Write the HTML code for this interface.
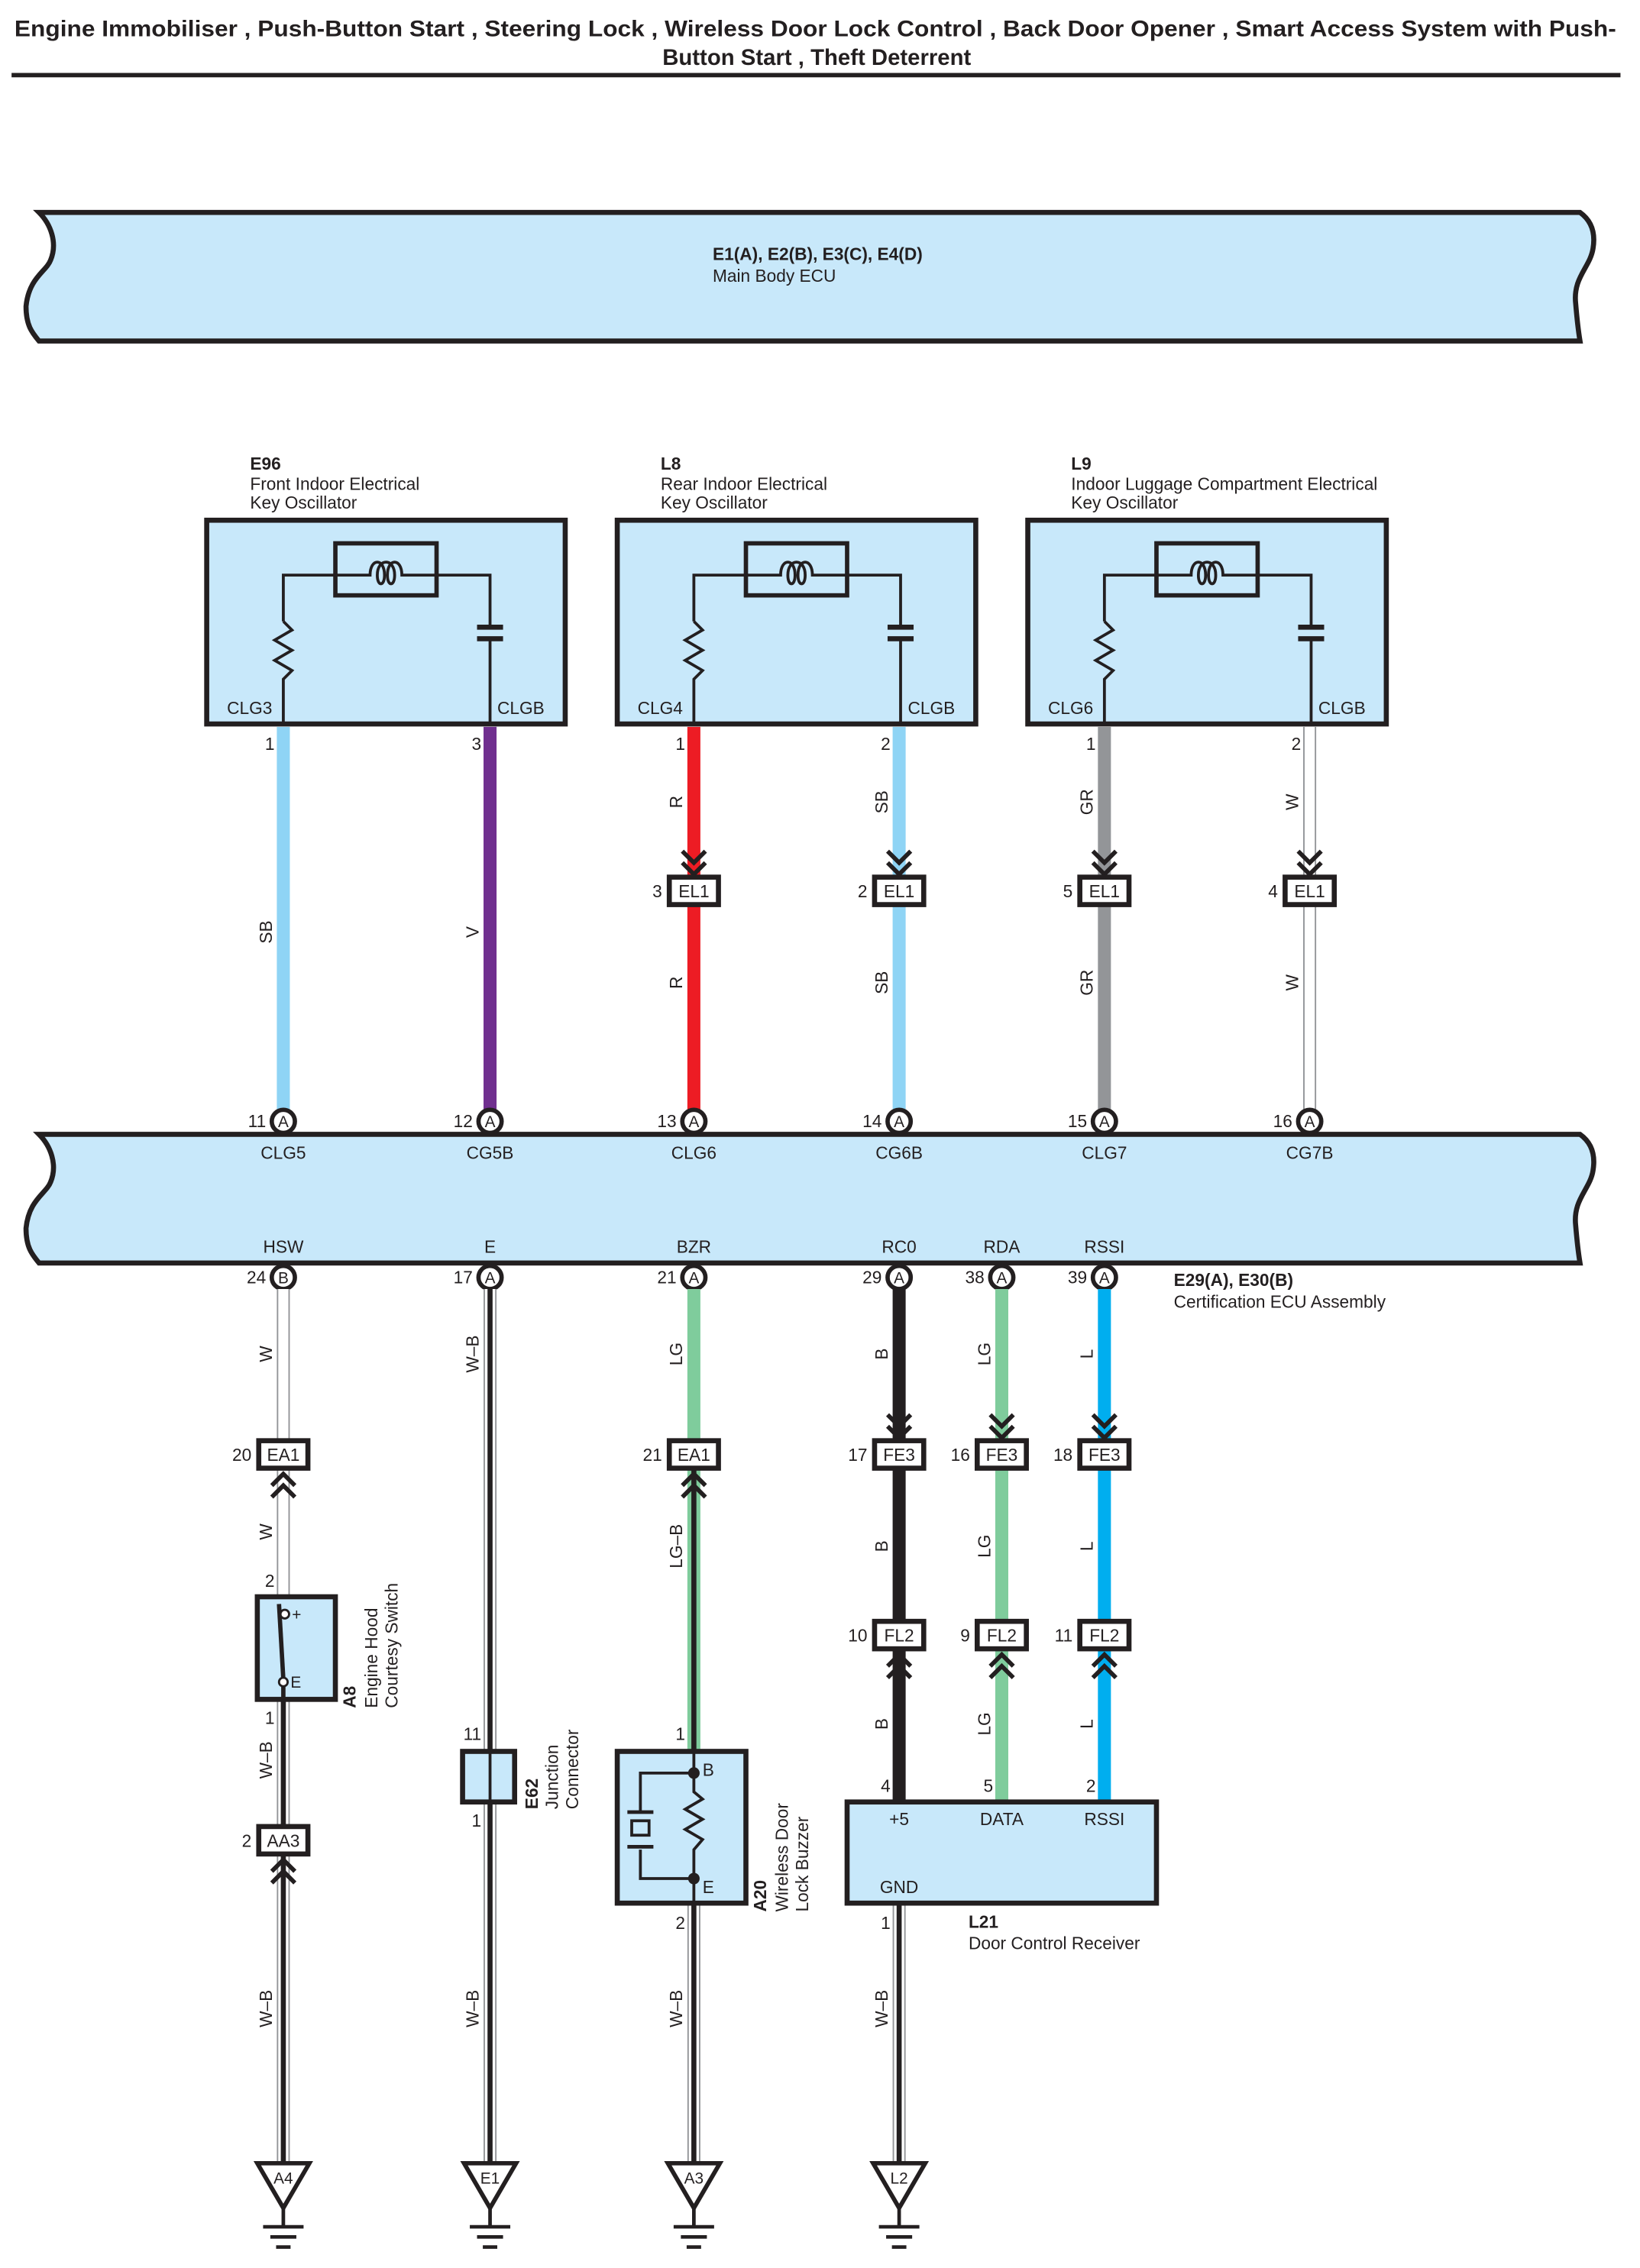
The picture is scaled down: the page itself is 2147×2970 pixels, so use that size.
<!DOCTYPE html>
<html><head><meta charset="utf-8"><style>
html,body{margin:0;padding:0;background:#fff}
svg{display:block}
text{font-family:"Liberation Sans",Arial,sans-serif;fill:#231f20}
.t{font-size:12px}.b{font-weight:bold}.p{font-size:12px}
</style></head><body>
<svg width="2147" height="2970" viewBox="0 0 1134.5 1569.5" preserveAspectRatio="none" xmlns="http://www.w3.org/2000/svg">
<defs>
<g id="chd"><polyline points="-8,-16 0,-8 8,-16" fill="none" stroke="#231f20" stroke-width="3"/><polyline points="-8,-8 0,0 8,-8" fill="none" stroke="#231f20" stroke-width="3"/></g>
<g id="chu"><polyline points="-8,16 0,8 8,16" fill="none" stroke="#231f20" stroke-width="3"/><polyline points="-8,8 0,0 8,8" fill="none" stroke="#231f20" stroke-width="3"/></g>
</defs>
<rect width="1140" height="1570" fill="#fff"/>
<!-- title -->
<text x="10" y="25" class="b" font-size="15.5" textLength="1108" lengthAdjust="spacingAndGlyphs">Engine Immobiliser , Push-Button Start , Steering Lock , Wireless Door Lock Control , Back Door Opener , Smart Access System with Push-</text>
<text x="565" y="45" class="b" font-size="15.5" text-anchor="middle">Button Start , Theft Deterrent</text>
<line x1="8" y1="52" x2="1121" y2="52" stroke="#231f20" stroke-width="3"/>

<!-- Main body ECU -->
<path d="M27,147 H1093 C1100,152 1104,160 1102,172 C1100,185 1088,192 1090,210 C1091,222 1092,230 1093,236 H27 C22,230 18,225 18,212 C20,192 32,188 35,180 C40,168 35,155 27,147 Z" fill="#c8e8fa" stroke="#231f20" stroke-width="3.5"/>
<text x="493" y="180" class="t b">E1(A), E2(B), E3(C), E4(D)</text>
<text x="493" y="195" class="t">Main Body ECU</text>

<!-- Oscillators -->
<g id="osc1">
<rect x="143" y="360" width="248" height="141" fill="#c8e8fa" stroke="#231f20" stroke-width="3.5"/>
<rect x="232" y="376" width="70" height="36" fill="none" stroke="#231f20" stroke-width="3"/>
<path d="M196,430 V398 H256 c0,-12 10,-12 10,0 c0,8 -5,8 -5,0 c0,-12 12,-12 12,0 c0,8 -5,8 -5,0 c0,-12 10,-12 10,0 H339 V434" fill="none" stroke="#231f20" stroke-width="2"/>
<polyline points="196,430 202,436 190,443 202,450 190,457 202,464 196,470 196,501" fill="none" stroke="#231f20" stroke-width="2"/>
<line x1="330" y1="434" x2="348" y2="434" stroke="#231f20" stroke-width="3.5"/>
<line x1="330" y1="442" x2="348" y2="442" stroke="#231f20" stroke-width="3.5"/>
<line x1="339" y1="442" x2="339" y2="501" stroke="#231f20" stroke-width="2"/>
</g>
<use href="#osc1" x="284"/>
<use href="#osc1" x="568"/>
<text x="173" y="325" class="t b">E96</text><text x="173" y="339" class="t">Front Indoor Electrical</text><text x="173" y="352" class="t">Key Oscillator</text>
<text x="457" y="325" class="t b">L8</text><text x="457" y="339" class="t">Rear Indoor Electrical</text><text x="457" y="352" class="t">Key Oscillator</text>
<text x="741" y="325" class="t b">L9</text><text x="741" y="339" class="t">Indoor Luggage Compartment Electrical</text><text x="741" y="352" class="t">Key Oscillator</text>
<text x="157" y="494" class="t">CLG3</text><text x="344" y="494" class="t">CLGB</text>
<text x="441" y="494" class="t">CLG4</text><text x="628" y="494" class="t">CLGB</text>
<text x="725" y="494" class="t">CLG6</text><text x="912" y="494" class="t">CLGB</text>

<!-- top wires -->
<g stroke-width="9">
<line x1="196" y1="503" x2="196" y2="768" stroke="#8fd4f5"/>
<line x1="339" y1="503" x2="339" y2="768" stroke="#702f8f"/>
<line x1="480" y1="503" x2="480" y2="768" stroke="#ed1c24"/>
<line x1="622" y1="503" x2="622" y2="768" stroke="#8fd4f5"/>
<line x1="764" y1="503" x2="764" y2="768" stroke="#939598"/>
<line x1="906" y1="503" x2="906" y2="768" stroke="#939598"/>
</g>
<line x1="906" y1="503" x2="906" y2="768" stroke="#fff" stroke-width="7"/>
<g class="p">
<text x="190" y="519" text-anchor="end" class="p">1</text><text x="333" y="519" text-anchor="end" class="p">3</text>
<text x="474" y="519" text-anchor="end" class="p">1</text><text x="616" y="519" text-anchor="end" class="p">2</text>
<text x="758" y="519" text-anchor="end" class="p">1</text><text x="900" y="519" text-anchor="end" class="p">2</text>
</g>
<g class="t" text-anchor="middle">
<text transform="translate(188,645) rotate(-90)">SB</text>
<text transform="translate(331,645) rotate(-90)">V</text>
<text transform="translate(472,555) rotate(-90)">R</text><text transform="translate(472,680) rotate(-90)">R</text>
<text transform="translate(614,555) rotate(-90)">SB</text><text transform="translate(614,680) rotate(-90)">SB</text>
<text transform="translate(756,555) rotate(-90)">GR</text><text transform="translate(756,680) rotate(-90)">GR</text>
<text transform="translate(898,555) rotate(-90)">W</text><text transform="translate(898,680) rotate(-90)">W</text>
</g>
<g>
<use href="#chd" x="480" y="605"/><use href="#chd" x="622" y="605"/><use href="#chd" x="764" y="605"/><use href="#chd" x="906" y="605"/>
<rect x="463" y="607" width="34" height="19" fill="#fff" stroke="#231f20" stroke-width="3.5"/>
<rect x="605" y="607" width="34" height="19" fill="#fff" stroke="#231f20" stroke-width="3.5"/>
<rect x="747" y="607" width="34" height="19" fill="#fff" stroke="#231f20" stroke-width="3.5"/>
<rect x="889" y="607" width="34" height="19" fill="#fff" stroke="#231f20" stroke-width="3.5"/>
<g class="t" text-anchor="middle"><text x="480" y="621">EL1</text><text x="622" y="621">EL1</text><text x="764" y="621">EL1</text><text x="906" y="621">EL1</text></g>
<g class="t" text-anchor="end"><text x="458" y="621">3</text><text x="600" y="621">2</text><text x="742" y="621">5</text><text x="884" y="621">4</text></g>
</g>

<!-- Certification ECU -->
<path transform="translate(0,638)" d="M27,147 H1093 C1100,152 1104,160 1102,172 C1100,185 1088,192 1090,210 C1091,222 1092,230 1093,236 H27 C22,230 18,225 18,212 C20,192 32,188 35,180 C40,168 35,155 27,147 Z" fill="#c8e8fa" stroke="#231f20" stroke-width="3.5"/>
<g fill="#fff" stroke="#231f20" stroke-width="3">
<circle cx="196" cy="776" r="8"/><circle cx="339" cy="776" r="8"/><circle cx="480" cy="776" r="8"/><circle cx="622" cy="776" r="8"/><circle cx="764" cy="776" r="8"/><circle cx="906" cy="776" r="8"/>
<circle cx="196" cy="884" r="8"/><circle cx="339" cy="884" r="8"/><circle cx="480" cy="884" r="8"/><circle cx="622" cy="884" r="8"/><circle cx="693" cy="884" r="8"/><circle cx="764" cy="884" r="8"/>
</g>
<g font-size="11" text-anchor="middle">
<text x="196" y="780">A</text><text x="339" y="780">A</text><text x="480" y="780">A</text><text x="622" y="780">A</text><text x="764" y="780">A</text><text x="906" y="780">A</text>
<text x="196" y="888">B</text><text x="339" y="888">A</text><text x="480" y="888">A</text><text x="622" y="888">A</text><text x="693" y="888">A</text><text x="764" y="888">A</text>
</g>
<g class="p" text-anchor="end">
<text x="184" y="780">11</text><text x="327" y="780">12</text><text x="468" y="780">13</text><text x="610" y="780">14</text><text x="752" y="780">15</text><text x="894" y="780">16</text>
<text x="184" y="888">24</text><text x="327" y="888">17</text><text x="468" y="888">21</text><text x="610" y="888">29</text><text x="681" y="888">38</text><text x="752" y="888">39</text>
</g>
<g class="t" text-anchor="middle">
<text x="196" y="802">CLG5</text><text x="339" y="802">CG5B</text><text x="480" y="802">CLG6</text><text x="622" y="802">CG6B</text><text x="764" y="802">CLG7</text><text x="906" y="802">CG7B</text>
<text x="196" y="867">HSW</text><text x="339" y="867">E</text><text x="480" y="867">BZR</text><text x="622" y="867">RC0</text><text x="693" y="867">RDA</text><text x="764" y="867">RSSI</text>
</g>
<text x="812" y="890" class="t b">E29(A), E30(B)</text>
<text x="812" y="905" class="t">Certification ECU Assembly</text>

<g>
<line x1="196" y1="892" x2="196" y2="1105" stroke="#939598" stroke-width="9"/>
<line x1="196" y1="892" x2="196" y2="1105" stroke="#fff" stroke-width="7"/>
<line x1="196" y1="1176" x2="196" y2="1497" stroke="#939598" stroke-width="9"/>
<line x1="196" y1="1176" x2="196" y2="1497" stroke="#fff" stroke-width="7"/>
<line x1="196" y1="1176" x2="196" y2="1497" stroke="#231f20" stroke-width="3.5"/>
<line x1="339" y1="892" x2="339" y2="1497" stroke="#939598" stroke-width="9"/>
<line x1="339" y1="892" x2="339" y2="1497" stroke="#fff" stroke-width="7"/>
<line x1="339" y1="892" x2="339" y2="1497" stroke="#231f20" stroke-width="3.5"/>
<line x1="480" y1="892" x2="480" y2="1212" stroke="#7fcc9c" stroke-width="9"/>
<line x1="480" y1="1016" x2="480" y2="1212" stroke="#231f20" stroke-width="3.5"/>
<line x1="480" y1="1317" x2="480" y2="1497" stroke="#939598" stroke-width="9"/>
<line x1="480" y1="1317" x2="480" y2="1497" stroke="#fff" stroke-width="7"/>
<line x1="480" y1="1317" x2="480" y2="1497" stroke="#231f20" stroke-width="3.5"/>
<line x1="622" y1="892" x2="622" y2="1247" stroke="#231f20" stroke-width="9"/>
<line x1="622" y1="1317" x2="622" y2="1497" stroke="#939598" stroke-width="9"/>
<line x1="622" y1="1317" x2="622" y2="1497" stroke="#fff" stroke-width="7"/>
<line x1="622" y1="1317" x2="622" y2="1497" stroke="#231f20" stroke-width="3.5"/>
<line x1="693" y1="892" x2="693" y2="1247" stroke="#7fcc9c" stroke-width="9"/>
<line x1="764" y1="892" x2="764" y2="1247" stroke="#00aeef" stroke-width="9"/>
</g>
<g class="t" text-anchor="middle">
<text transform="translate(188,937) rotate(-90)">W</text><text transform="translate(188,1060) rotate(-90)">W</text>
<text transform="translate(188,1218) rotate(-90)">W–B</text><text transform="translate(188,1390) rotate(-90)">W–B</text>
<text transform="translate(331,937) rotate(-90)">W–B</text><text transform="translate(331,1390) rotate(-90)">W–B</text>
<text transform="translate(472,937) rotate(-90)">LG</text><text transform="translate(472,1070) rotate(-90)">LG–B</text><text transform="translate(472,1390) rotate(-90)">W–B</text>
<text transform="translate(614,937) rotate(-90)">B</text><text transform="translate(614,1070) rotate(-90)">B</text><text transform="translate(614,1193) rotate(-90)">B</text><text transform="translate(614,1390) rotate(-90)">W–B</text>
<text transform="translate(685,937) rotate(-90)">LG</text><text transform="translate(685,1070) rotate(-90)">LG</text><text transform="translate(685,1193) rotate(-90)">LG</text>
<text transform="translate(756,937) rotate(-90)">L</text><text transform="translate(756,1070) rotate(-90)">L</text><text transform="translate(756,1193) rotate(-90)">L</text>
</g>
<g>
<use href="#chu" x="196" y="1020"/><use href="#chu" x="480" y="1020"/>
<use href="#chu" x="196" y="1287"/>
<use href="#chd" x="622" y="995"/><use href="#chd" x="693" y="995"/><use href="#chd" x="764" y="995"/>
<use href="#chu" x="622" y="1145"/><use href="#chu" x="693" y="1145"/><use href="#chu" x="764" y="1145"/>
<g fill="#fff" stroke="#231f20" stroke-width="3.5">
<rect x="179" y="997" width="34" height="19"/><rect x="463" y="997" width="34" height="19"/>
<rect x="179" y="1264" width="34" height="19"/>
<rect x="605" y="997" width="34" height="19"/><rect x="676" y="997" width="34" height="19"/><rect x="747" y="997" width="34" height="19"/>
<rect x="605" y="1122" width="34" height="19"/><rect x="676" y="1122" width="34" height="19"/><rect x="747" y="1122" width="34" height="19"/>
</g>
<g class="t" text-anchor="middle">
<text x="196" y="1011">EA1</text><text x="480" y="1011">EA1</text><text x="196" y="1278">AA3</text>
<text x="622" y="1011">FE3</text><text x="693" y="1011">FE3</text><text x="764" y="1011">FE3</text>
<text x="622" y="1136">FL2</text><text x="693" y="1136">FL2</text><text x="764" y="1136">FL2</text>
</g>
<g class="p" text-anchor="end">
<text x="174" y="1011">20</text><text x="458" y="1011">21</text><text x="174" y="1278">2</text>
<text x="600" y="1011">17</text><text x="671" y="1011">16</text><text x="742" y="1011">18</text>
<text x="600" y="1136">10</text><text x="671" y="1136">9</text><text x="742" y="1136">11</text>
<text x="190" y="1098">2</text><text x="190" y="1193">1</text>
<text x="333" y="1204">11</text><text x="333" y="1264">1</text>
<text x="474" y="1204">1</text><text x="474" y="1335">2</text>
<text x="616" y="1240">4</text><text x="687" y="1240">5</text><text x="758" y="1240">2</text>
<text x="616" y="1335">1</text>
</g>
</g>

<rect x="178" y="1105" width="54" height="71" fill="#c8e8fa" stroke="#231f20" stroke-width="3.5"/>
<line x1="196" y1="1164" x2="196" y2="1176" stroke="#231f20" stroke-width="3"/>
<line x1="193" y1="1110" x2="196" y2="1162" stroke="#231f20" stroke-width="3"/>
<circle cx="197" cy="1117" r="3" fill="#fff" stroke="#231f20" stroke-width="1.5"/>
<circle cx="196" cy="1164" r="3" fill="#fff" stroke="#231f20" stroke-width="1.5"/>
<text x="202" y="1121" font-size="11">+</text><text x="201" y="1168" font-size="11">E</text>
<g class="t">
<text transform="translate(246,1182) rotate(-90)" class="b">A8</text>
<text transform="translate(261,1182) rotate(-90)">Engine Hood</text>
<text transform="translate(275,1182) rotate(-90)">Courtesy Switch</text>
</g>
<rect x="320" y="1212" width="36" height="35" fill="#c8e8fa" stroke="#231f20" stroke-width="3.5"/>
<line x1="339" y1="1212" x2="339" y2="1247" stroke="#231f20" stroke-width="2"/>
<g class="t">
<text transform="translate(372,1252) rotate(-90)" class="b">E62</text>
<text transform="translate(386,1252) rotate(-90)">Junction</text>
<text transform="translate(400,1252) rotate(-90)">Connector</text>
</g>
<rect x="427" y="1212" width="89" height="105" fill="#c8e8fa" stroke="#231f20" stroke-width="3.5"/>
<polyline points="480,1212 480,1240 486,1245 474,1252 486,1259 474,1266 486,1273 480,1280 480,1317" fill="none" stroke="#231f20" stroke-width="2"/>
<polyline points="480,1227 443,1227 443,1254" fill="none" stroke="#231f20" stroke-width="2"/>
<polyline points="443,1280 443,1300 480,1300" fill="none" stroke="#231f20" stroke-width="2"/>
<line x1="434" y1="1254" x2="452" y2="1254" stroke="#231f20" stroke-width="2.5"/>
<rect x="437" y="1260" width="12" height="10" fill="none" stroke="#231f20" stroke-width="2"/>
<line x1="434" y1="1278" x2="452" y2="1278" stroke="#231f20" stroke-width="2.5"/>
<circle cx="480" cy="1227" r="4" fill="#231f20"/><circle cx="480" cy="1300" r="4" fill="#231f20"/>
<text x="486" y="1229" class="t">B</text><text x="486" y="1310" class="t">E</text>
<g class="t">
<text transform="translate(530,1323) rotate(-90)" class="b">A20</text>
<text transform="translate(545,1323) rotate(-90)">Wireless Door</text>
<text transform="translate(559,1323) rotate(-90)">Lock Buzzer</text>
</g>
<rect x="586" y="1247" width="214" height="70" fill="#c8e8fa" stroke="#231f20" stroke-width="3.5"/>
<g class="t" text-anchor="middle"><text x="622" y="1263">+5</text><text x="693" y="1263">DATA</text><text x="764" y="1263">RSSI</text><text x="622" y="1310">GND</text></g>
<text x="670" y="1334" class="t b">L21</text>
<text x="670" y="1349" class="t">Door Control Receiver</text>

<g id="gnd">
<polygon points="178,1497 214,1497 196,1528" fill="#fff" stroke="#231f20" stroke-width="3"/>
<line x1="196" y1="1528" x2="196" y2="1541" stroke="#231f20" stroke-width="2.5"/>
<line x1="182" y1="1541" x2="210" y2="1541" stroke="#231f20" stroke-width="2.5"/>
<line x1="187" y1="1548" x2="205" y2="1548" stroke="#231f20" stroke-width="2.5"/>
<line x1="191" y1="1555" x2="201" y2="1555" stroke="#231f20" stroke-width="2.5"/>
</g>
<use href="#gnd" x="143"/><use href="#gnd" x="284"/><use href="#gnd" x="426"/>
<g font-size="11" text-anchor="middle">
<text x="196" y="1511">A4</text><text x="339" y="1511">E1</text><text x="480" y="1511">A3</text><text x="622" y="1511">L2</text>
</g>
</svg>
</body></html>
